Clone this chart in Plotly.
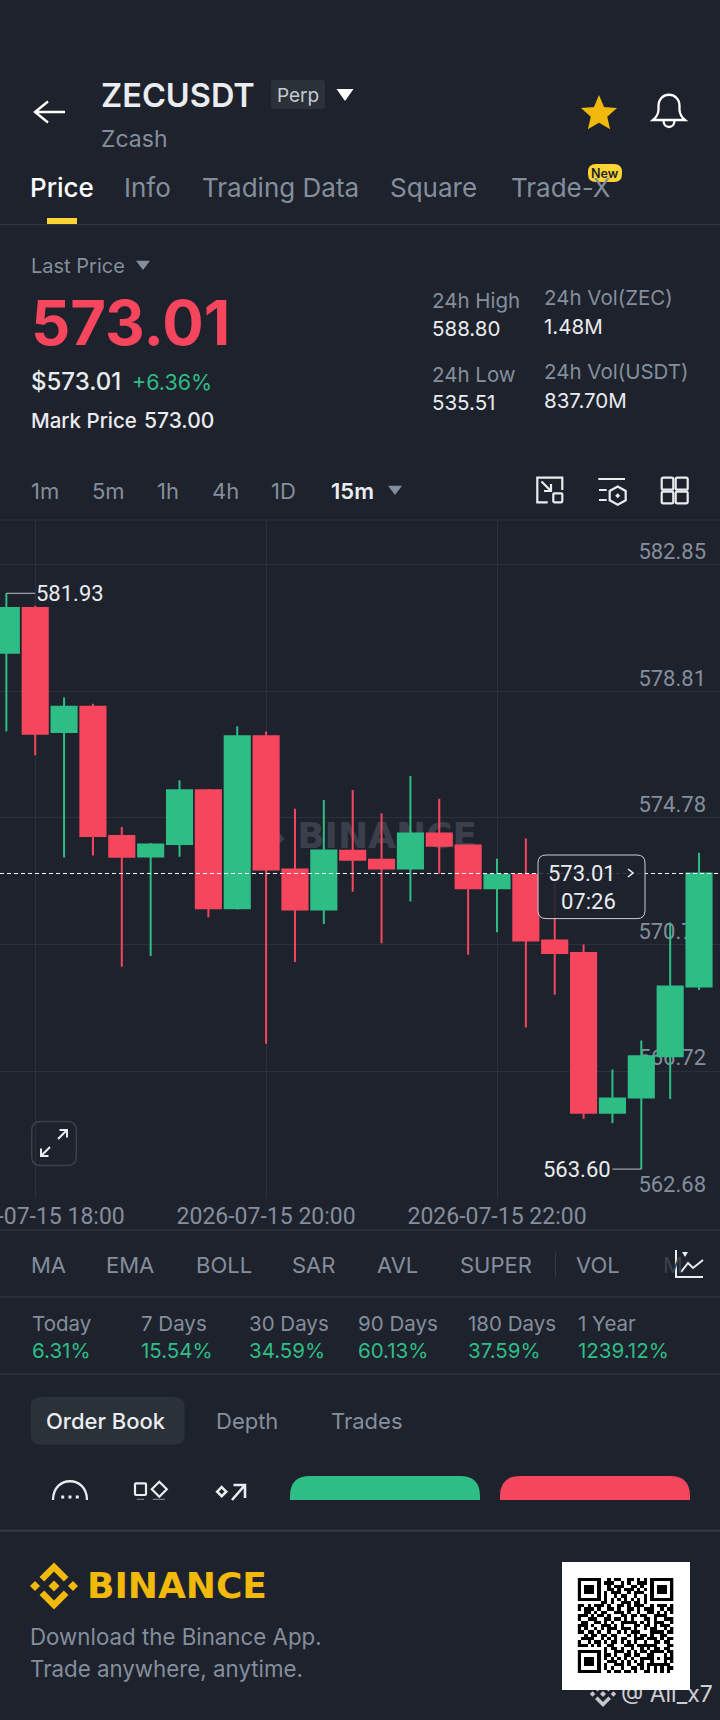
import math

import plotly.graph_objects as go

# 15m candles
times = ["2026-07-15 17:45", "2026-07-15 18:00", "2026-07-15 18:15", "2026-07-15 18:30", "2026-07-15 18:45",
         "2026-07-15 19:00", "2026-07-15 19:15", "2026-07-15 19:30", "2026-07-15 19:45", "2026-07-15 20:00",
         "2026-07-15 20:15", "2026-07-15 20:30", "2026-07-15 20:45", "2026-07-15 21:00", "2026-07-15 21:15",
         "2026-07-15 21:30", "2026-07-15 21:45", "2026-07-15 22:00", "2026-07-15 22:15", "2026-07-15 22:30",
         "2026-07-15 22:45", "2026-07-15 23:00", "2026-07-15 23:15", "2026-07-15 23:30", "2026-07-15 23:45"]
opens = [580.04, 581.46, 577.51, 578.32, 574.20, 573.55, 573.95, 575.66, 571.90, 577.38, 573.14, 571.86, 573.73,
         573.45, 573.17, 574.28, 573.90, 572.54, 572.97, 570.88, 570.48, 565.39, 565.88, 567.19, 569.41]
highs = [581.93, 581.53, 578.61, 578.41, 574.49, 573.98, 575.98, 575.70, 577.70, 577.53, 575.07, 575.35, 575.67,
         574.93, 576.11, 575.39, 573.90, 573.48, 574.12, 572.73, 570.75, 566.77, 567.69, 571.45, 573.67]
lows = [577.53, 576.77, 573.52, 573.58, 570.04, 570.38, 573.54, 571.62, 571.86, 567.59, 570.19, 571.40, 572.43,
        570.79, 572.12, 573.00, 570.42, 571.14, 568.11, 569.15, 565.20, 565.06, 563.60, 565.83, 569.30]
closes = [581.46, 577.46, 578.32, 574.20, 573.54, 573.93, 575.66, 571.90, 577.38, 573.14, 571.86, 573.74, 573.45,
          573.17, 574.28, 573.89, 572.54, 572.97, 570.88, 570.48, 565.39, 565.85, 567.19, 569.41, 573.01]

price_ticks = [582.85, 578.81, 574.78, 570.75, 566.72, 562.68]
time_ticks = ["2026-07-15 18:00", "2026-07-15 20:00", "2026-07-15 22:00"]
last_price = 573.01
countdown = "07:26"

intervals = ["1m", "5m", "1h", "4h", "1D", "15m"]
indicators = ["MA", "EMA", "BOLL", "SAR", "AVL", "SUPER", "VOL"]
periods = ["Today", "7 Days", "30 Days", "90 Days", "180 Days", "1 Year"]
period_changes = ["6.31%", "15.54%", "34.59%", "60.13%", "37.59%", "1239.12%"]

qr_rows = [
    "#######" + "..#.##..##.#.#." + "#######",
    "#.....#" + ".###..#.#..###." + "#.....#",
    "#.###.#" + "..#.###..##.#.." + "#.###.#",
    "#.###.#" + "..##.#.###.#.#." + "#.###.#",
    "#.###.#" + ".#.###..#.###.." + "#.###.#",
    "#.....#" + ".#..#.##..#..#." + "#.....#",
    "#######" + ".#.#.#.#.#.#.#." + "#######",
    "......." + "##.#..###.##.#." + ".......",
    "##.#." + "###.#" + "..##." + "#.###" + "..#.#" + "##.#",
    "#.###" + ".#..#" + "#.#.." + "##.#." + "###.." + "#.##",
    "..##." + "#.##." + ".###." + "#..#." + ".##.#" + ".#.#",
    "###.#" + ".##.#" + "...##" + ".##.#" + "#..##" + "##..",
    "#..##" + "#..##" + ".##.#" + ".#..." + "##.#." + ".###",
    ".##.." + "##.#." + "#..##" + "###.#" + ".#.##" + "#..#",
    "###.#" + "..###" + ".#.#." + "..##." + "##.#." + "###.",
    "#.#.." + "#.#.#" + "##.##" + "#.#.." + "#.##." + ".#.#",
    "##.##" + ".#..#" + "..#.#" + ".###." + "..###" + "#.##",
    "..#.#" + "#.##." + "##..." + "#.#.#" + "#.#.." + "##..",
    ".####" + "..#.#" + ".#.##" + "..###" + ".###." + "#.##",
    "#..#." + "##.#." + "##.#." + "#.#.." + "#..##" + ".##.",
    "###.#" + ".#..#" + "#...#" + "##.##" + "####." + "..##",
    "......." + ".#.##" + ".#..#" + "..#.#" + ".##.#" + "#.",
    "#######" + ".#..#" + "##.#." + "#.##." + "####." + "##",
    "#.....#" + ".##.#" + "..##." + "##..#" + "#...#" + ".#",
    "#.###.#" + ".#.#." + "#.#.#" + "..###" + "#.#.#" + "##",
    "#.###.#" + "..###" + ".#.#." + "#.#.." + "#...#" + ".#",
    "#.###.#" + ".#..#" + "##.#." + ".##.#" + "#####" + "#.",
    "#.....#" + ".#.#." + ".#..#" + "#.#.#" + ".#.#." + "##",
    "#######" + "..#.#" + "#.##." + "#..##" + ".#.#." + "#.",
]

BG = "#1e222d"
GRID = "#2b3039"
LINE = "#333a45"
GREY = "#848e9c"
WHITE = "#eaecef"
GREEN = "#2ebd85"
RED = "#f6465d"
YELLOW = "#f0b90b"
FONT = "Inter"
CHART_FONT = "Roboto"  # has tabular digits like the chart labels

W, H = 720, 1720
CHART_TOP, CHART_BOTTOM = 520.7, 1198
# one price step is 126.7px, so the axis top is a bit over the first tick
PRICE_TOP = 584.24

fig = go.Figure()

# watermark lives on the pixel subplot, which is drawn before the candle subplot
fig.add_trace(go.Scatter(x=[367], y=[839], mode="text", text=["◆ BINANCE"], hoverinfo="skip",
                         textfont=dict(size=36, color="#3a3f4b", family="DejaVu Sans", weight=700)))

fig.add_trace(go.Candlestick(x=times, open=opens, high=highs, low=lows, close=closes,
                             xaxis="x2", yaxis="y2",
                             increasing=dict(line=dict(color=GREEN, width=2), fillcolor=GREEN),
                             decreasing=dict(line=dict(color=RED, width=2), fillcolor=RED),
                             whiskerwidth=0, hoverinfo="skip", showlegend=False))

fig.add_trace(go.Heatmap(z=[[1 if c == "#" else 0 for c in row] for row in qr_rows],
                         xaxis="x3", yaxis="y3", showscale=False, hoverinfo="skip",
                         colorscale=[[0, "#ffffff"], [1, "#000000"]], zmin=0, zmax=1))


def text(x, y, s, size=20.5, color=GREY, weight=400, anchor="left", family=FONT):
    # annotations keep a small pad round the text, pull left aligned ones back over it
    fig.add_annotation(xref="x", yref="y", x=x, y=y, text=s, showarrow=False, xanchor=anchor, yanchor="middle",
                       xshift=-2 if anchor == "left" else 0, borderpad=0,
                       font=dict(size=size, color=color, weight=weight, family=family))


def stroke(path, color=WHITE, width=2.2, layer="above"):
    fig.add_shape(type="path", xref="x", yref="y", path=path, layer=layer,
                  line=dict(color=color, width=width))


def fill(path, color, layer="above", opacity=1):
    fig.add_shape(type="path", xref="x", yref="y", path=path, layer=layer, opacity=opacity,
                  fillcolor=color, line=dict(width=0))


def hline(y, color=LINE, width=1):
    stroke(f"M0 {y} H{W}", color, width)


def rrect(x0, y0, x1, y1, r):
    return (f"M{x0 + r} {y0} H{x1 - r} Q{x1} {y0} {x1} {y0 + r} V{y1 - r} Q{x1} {y1} {x1 - r} {y1} "
            f"H{x0 + r} Q{x0} {y1} {x0} {y1 - r} V{y0 + r} Q{x0} {y0} {x0 + r} {y0} Z")


def caret(x0, x1, y0, y1, color):
    fill(f"M{x0} {y0} H{x1} L{(x0 + x1) / 2} {y1} Z", color)


def diamond(cx, cy, r):
    return f"M{cx} {cy - r} L{cx + r} {cy} L{cx} {cy + r} L{cx - r} {cy} Z"


def star(cx, cy, r):
    pts = []
    for i in range(10):
        rad = r if i % 2 == 0 else r * 0.46
        a = -math.pi / 2 + i * math.pi / 5
        pts.append(f"{cx + rad * math.cos(a):.1f} {cy + rad * math.sin(a):.1f}")
    return "M" + " L".join(pts) + " Z"


def logo(cx, cy, s, color, opacity=1):
    for sign in (-1, 1):
        pts = [(0, 23.5), (14.5, 9), (9.8, 4.5), (0, 14.5), (-9.8, 4.5), (-14.5, 9)]
        fill("M" + " L".join(f"{cx + a * s} {cy - sign * b * s}" for a, b in pts) + " Z", color, opacity=opacity)
        fill(diamond(cx + sign * 19 * s, cy, 5 * s), color, opacity=opacity)
    fill(diamond(cx, cy, 5.5 * s), color, opacity=opacity)


# header
stroke("M65 112 H36 M48 101.5 L35 112 L48 122.5", "#ffffff", 2.4)
text(102, 95, "ZECUSDT", 32.5, WHITE, 600)
fill(rrect(271, 80, 325, 109, 3), "#2b3139")
text(298, 95.5, "Perp", 19, "#c5c9d0", anchor="center")
caret(336.5, 353.5, 89, 101, "#ffffff")
text(102, 139, "Zcash", 23)
fill(star(599, 114, 17), YELLOW)
stroke(star(599, 114, 17), YELLOW, 1.5)
stroke("M653 120 Q658 116 658.5 110 V106 C658.5 91 679.5 91 679.5 106 V110 Q680 116 685 120 Z "
       "M663.5 121 C664 129 674 129 674.5 121", "#ffffff", 2.3)

for s, x, c, w in [("Price", 31, "#ffffff", 500), ("Info", 125.3, GREY, 400), ("Trading Data", 202.5, GREY, 400),
                   ("Square", 391, GREY, 400), ("Trade-X", 511.5, GREY, 400)]:
    text(x, 187, s, 26, c, w)
fill(rrect(588, 164, 622, 182, 8), "#fcd535")
text(605, 173, "New", 12.5, "#1e2329", 600, anchor="center")
fill("M47 218 H77 V224 H47 Z", "#fcd535")
hline(224.7)

# price block
text(32, 265.5, "Last Price", 20)
caret(136, 150, 260.7, 270, GREY)
text(32, 322.5, f"{last_price:.2f}", 61.5, RED, 700)
text(32, 381.7, f"${last_price:.2f}", 24, WHITE, 500)
text(133, 381.7, "+6.36%", 21.5, GREEN)
text(32, 420.7, "Mark Price", 20.5, WHITE, 500)
text(145, 420.7, "573.00", 21, WHITE, 500)
for x, y, label, value in [(432.5, 300, "24h High", "588.80"), (544.5, 297.7, "24h Vol(ZEC)", "1.48M"),
                           (432.5, 374, "24h Low", "535.51"), (544.5, 371.7, "24h Vol(USDT)", "837.70M")]:
    text(x, y, label)
    text(x, y + 28.5, value, 20.5, WHITE)

# interval row
for s, x in zip(intervals, [32, 93, 157.5, 213, 272, 332.4]):
    if s == "15m":
        text(x, 490.7, s, 22, WHITE, 600)
    else:
        text(x, 490.7, s, 22)
caret(388, 402, 485.7, 495, GREY)
stroke("M547.7 502.3 H537.3 V477.7 H562.3 V490 M541.5 481.5 L551 491 M551 484 V491 H544", WHITE)
stroke(rrect(553.3, 493.3, 562.3, 502.3, 1), WHITE)
stroke("M598.3 479 H625 M599 490 H606.7 M599 500 H606.7 M617.7 486.5 L625.7 491 V500.3 L617.7 504.8 "
       "L609.7 500.3 V491 Z", WHITE)
fill(diamond(617.7, 495.7, 2.5), WHITE)
for x0, x1 in [(661.7, 673.3), (675.7, 687.7)]:
    for y0, y1 in [(477.7, 489.7), (491.7, 503.3)]:
        stroke(rrect(x0, y0, x1, y1, 1.5), WHITE)

# chart furniture
hline(CHART_TOP - 0.7, GRID)
hline(1230)
fig.add_shape(type="line", xref="x2", yref="y2", x0=times[0], x1=times[1], y0=highs[0], y1=highs[0],
              line=dict(color="#c0c4cc", width=1))
fig.add_shape(type="line", xref="x2", yref="y2", x0=times[21], x1=times[22], y0=lows[22], y1=lows[22],
              line=dict(color="#c0c4cc", width=1))
fig.add_annotation(xref="x2", yref="y2", x=times[1], y=highs[0], text=f"{highs[0]:.2f}", showarrow=False,
                   xanchor="left", yanchor="middle", xshift=-1, font=dict(size=22, color=WHITE, family=CHART_FONT))
fig.add_annotation(xref="x2", yref="y2", x=times[21], y=lows[22], text=f"{lows[22]:.2f}", showarrow=False,
                   xanchor="right", yanchor="middle", xshift=1, font=dict(size=22, color=WHITE, family=CHART_FONT))
fig.add_shape(type="line", xref="paper", yref="y2", x0=0, x1=1, y0=last_price, y1=last_price,
              line=dict(color="#ffffff", width=1, dash="4px,3px"))

fig.add_shape(type="path", xref="x", yref="y", path=rrect(538, 855, 645, 918.6, 8), layer="above",
              fillcolor="rgba(30,34,45,0.88)", line=dict(color="#c9ccd2", width=1))
text(582, 873.5, f"{last_price:.2f}", 22, WHITE, anchor="center", family=CHART_FONT)
stroke("M628 869 L633 873 L628 877", WHITE, 1.6)
text(588, 901.5, countdown, 22, WHITE, anchor="center", family=CHART_FONT)

stroke(rrect(31.7, 1121.6, 76.3, 1165.6, 9), "#3a404c", 1.5)
stroke("M41 1156 L50 1147 M41 1148.5 V1156 H48.5 M58 1139 L67 1130 M59.5 1130 H67 V1137.5", WHITE, 2)

# indicators
for s, x in zip(indicators, [32, 107, 196.5, 293, 378, 461, 577]):
    text(x, 1265, s, 22)
text(664, 1265, "M", 22, "#3a404c")
stroke("M555.5 1252 V1277", LINE, 1)
stroke("M676 1250 V1277 H703 M681 1272 L688 1263 L693 1268 L703 1260", WHITE, 2)
fill("M682 1252 H688 L685 1257 Z", WHITE)
hline(1297)

for s, v, x in zip(periods, period_changes, [33, 141.5, 250, 359, 468.5, 579]):
    text(x, 1323, s)
    text(x, 1350.7, v, 20.5, GREEN)
hline(1374)

# order book tabs and buttons
fill(rrect(30.8, 1397, 184.6, 1444.7, 10), "#2b3139")
text(47.3, 1421, "Order Book", 22, WHITE, 500)
text(217, 1421, "Depth", 22)
text(332.4, 1421, "Trades", 22)

stroke("M53 1500 C53 1475 87 1475 87 1500", WHITE, 2.3)
for x in [62.7, 70, 77.3]:
    fill(f"M{x - 1.5} 1495.5 H{x + 1.5} V1498.5 H{x - 1.5} Z", WHITE)
stroke(rrect(135, 1483.3, 146, 1495, 1), WHITE)
stroke(diamond(159.3, 1489.3, 7.5), WHITE)
stroke("M136.7 1499.3 H144 M152.7 1499.3 H165", "#8a8f99", 1)
stroke(diamond(221.7, 1491.7, 4.5), WHITE, 2.6)
stroke("M232 1500 L245 1485 M233.5 1485 H245 V1498", WHITE, 2.6)
fill("M290 1500 V1496 Q290 1476 310 1476 H460 Q480 1476 480 1496 V1500 Z", GREEN)
fill("M500 1500 V1496 Q500 1476 520 1476 H670 Q690 1476 690 1496 V1500 Z", RED)
hline(1530.7, LINE, 2)

# download footer
logo(54, 1586, 1, YELLOW)
text(88, 1585.7, "BINANCE", 36, YELLOW, 700, family="DejaVu Sans")
text(30.8, 1636.7, "Download the Binance App.", 22.3)
text(30.8, 1668.3, "Trade anywhere, anytime.", 22.3)
fill("M562 1562 H690 V1690 H562 Z", "#ffffff", layer="below")
logo(603, 1694, 0.55, "#ffffff", 0.75)
text(622, 1694, "@ Ali_x7", 23, "rgba(255,255,255,0.8)")

price_range = [price_ticks[-1], PRICE_TOP]
fig.update_layout(
    width=W,
    height=H,
    autosize=False,
    margin=dict(l=0, r=0, t=0, b=0),
    paper_bgcolor=BG,
    plot_bgcolor="rgba(0,0,0,0)",
    showlegend=False,
    boxgap=0.13,
    boxgroupgap=0,
    # full page subplot measured in pixels, for the app furniture
    xaxis=dict(domain=[0, 1], range=[0, W], anchor="y", visible=False, automargin=False),
    yaxis=dict(domain=[0, 1], range=[H, 0], anchor="x", visible=False, automargin=False),
    xaxis2=dict(domain=[0, 1], range=["2026-07-15 17:41:42", "2026-07-15 23:55:54"], type="date", anchor="y2",
                rangeslider=dict(visible=False), tickmode="array", tickvals=time_ticks, automargin=False,
                tickformat="%Y-%m-%d %H:%M", tickangle=0, ticklabeloverflow="allow", showgrid=True,
                ticklabelstandoff=2, gridcolor=GRID, gridwidth=1, zeroline=False, showline=False, ticks="",
                tickfont=dict(size=23, color=GREY, family=CHART_FONT), layer="below traces"),
    yaxis2=dict(domain=[1 - CHART_BOTTOM / H, 1 - CHART_TOP / H], range=price_range, side="right", anchor="x2",
                tickmode="array", tickvals=price_ticks, ticktext=[f"{p:.2f}" for p in price_ticks],
                ticklabelposition="inside top", ticklabeloverflow="allow", ticklabelstandoff=11, automargin=False,
                ticklabelshift=2, gridcolor=GRID, gridwidth=1, zeroline=False, showline=False, ticks="",
                tickfont=dict(size=22, color=GREY, family=CHART_FONT), layer="below traces"),
    # QR code
    xaxis3=dict(domain=[577.6 / W, 673.5 / W], range=[-0.5, 28.5], anchor="y3", visible=False, automargin=False),
    yaxis3=dict(domain=[1 - 1673 / H, 1 - 1578 / H], range=[28.5, -0.5], anchor="x3", visible=False,
                automargin=False),
)

fig.write_html("out.html", config=dict(displayModeBar=False),
               post_script="document.body.style.margin='0';")
